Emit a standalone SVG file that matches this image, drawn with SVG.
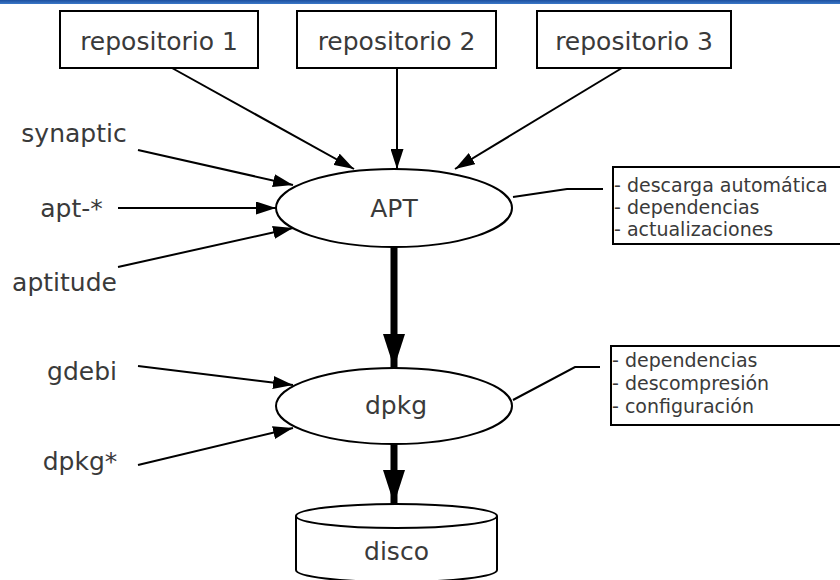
<svg xmlns="http://www.w3.org/2000/svg" width="840" height="580" viewBox="0 0 840 580">
<defs>
<style>
.t{font-family:"DejaVu Sans","Liberation Sans",sans-serif;fill:#3a3a3a;}
.big{font-size:25px;}
.sm{font-size:19px;}
.box{fill:#fff;stroke:#000;stroke-width:2;}
.c{stroke:#000;stroke-width:2;fill:none;}
.thick{stroke:#000;stroke-width:7;fill:none;}
</style>
<marker id="ah" viewBox="0 0 20 13" refX="20" refY="6.5" markerWidth="20" markerHeight="13" markerUnits="userSpaceOnUse" orient="auto">
<path d="M0,0 L20,6.5 L0,13 Z" fill="#000"/>
</marker>
<marker id="ahb" viewBox="0 0 34 22" refX="34" refY="11" markerWidth="34" markerHeight="22" markerUnits="userSpaceOnUse" orient="auto">
<path d="M0,0 L34,11 L0,22 Z" fill="#000"/>
</marker>
<linearGradient id="bar" x1="0" y1="0" x2="0" y2="1">
<stop offset="0" stop-color="#1d4f9e"/>
<stop offset="1" stop-color="#3b78c8"/>
</linearGradient>
</defs>
<rect x="0" y="0" width="840" height="4" fill="url(#bar)"/>

<g id="connectors">
<line class="c" x1="172" y1="68" x2="354" y2="169" marker-end="url(#ah)"/>
<line class="c" x1="397" y1="68" x2="397" y2="169" marker-end="url(#ah)"/>
<line class="c" x1="622" y1="68" x2="455" y2="169" marker-end="url(#ah)"/>
<line class="c" x1="138" y1="150" x2="293" y2="185" marker-end="url(#ah)"/>
<line class="c" x1="118" y1="208" x2="276" y2="208" marker-end="url(#ah)"/>
<line class="c" x1="118" y1="267" x2="293" y2="228" marker-end="url(#ah)"/>
<line class="c" x1="138" y1="366" x2="293" y2="385" marker-end="url(#ah)"/>
<line class="c" x1="138" y1="465" x2="293" y2="428" marker-end="url(#ah)"/>
<line class="thick" x1="394" y1="247" x2="394" y2="368" marker-end="url(#ahb)"/>
<line class="thick" x1="394" y1="444" x2="394" y2="504" marker-end="url(#ahb)"/>
<polyline class="c" points="513,197 567,189 603,189"/>
<polyline class="c" points="513,400 575,367 600,367"/>
</g>

<g id="repo1"><rect class="box" x="60" y="11" width="198" height="57"/><text class="t big" x="159" y="50" text-anchor="middle">repositorio 1</text></g>
<g id="repo2"><rect class="box" x="297" y="11" width="199" height="57"/><text class="t big" x="396.5" y="50" text-anchor="middle">repositorio 2</text></g>
<g id="repo3"><rect class="box" x="537" y="11" width="194" height="57"/><text class="t big" x="634" y="50" text-anchor="middle">repositorio 3</text></g>

<g id="synaptic"><text class="t big" x="74" y="142" text-anchor="middle">synaptic</text></g>
<g id="apt-star"><text class="t big" x="71.5" y="217" text-anchor="middle">apt-*</text></g>
<g id="aptitude"><text class="t big" x="64.5" y="291" text-anchor="middle">aptitude</text></g>
<g id="gdebi"><text class="t big" x="82" y="380" text-anchor="middle">gdebi</text></g>
<g id="dpkg-star"><text class="t big" x="80" y="470" text-anchor="middle">dpkg*</text></g>

<g id="apt"><ellipse class="box" cx="394" cy="208" rx="118" ry="39"/><text class="t big" x="394" y="217" text-anchor="middle">APT</text></g>
<g id="dpkg"><ellipse class="box" cx="394" cy="406" rx="118" ry="38"/><text class="t big" x="396" y="414" text-anchor="middle">dpkg</text></g>

<g id="disco">
<path class="box" d="M296,516 L296,570 A100.5,12 0 0 0 497,570 L497,516"/>
<ellipse class="box" cx="396.5" cy="516" rx="100.5" ry="12"/>
<text class="t big" x="396.5" y="560" text-anchor="middle">disco</text>
</g>

<g id="note-apt">
<rect class="box" x="613" y="167" width="230" height="77"/>
<text class="t sm" x="614" y="192">- descarga automática</text>
<text class="t sm" x="614" y="214">- dependencias</text>
<text class="t sm" x="614" y="236">- actualizaciones</text>
</g>
<g id="note-dpkg">
<rect class="box" x="611" y="346" width="232" height="79"/>
<text class="t sm" x="612" y="367">- dependencias</text>
<text class="t sm" x="612" y="390">- descompresión</text>
<text class="t sm" x="612" y="413">- configuración</text>
</g>
</svg>
